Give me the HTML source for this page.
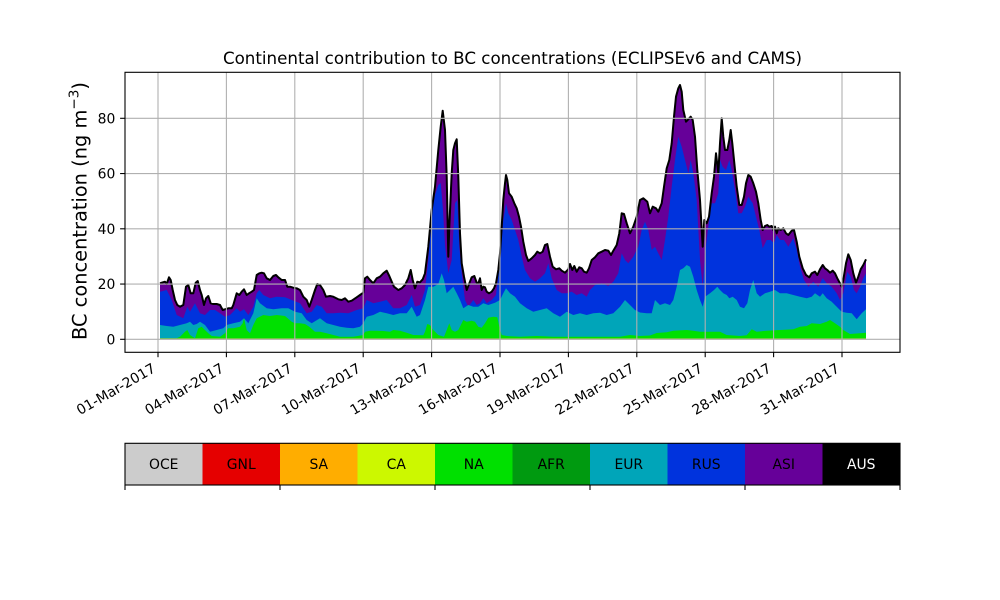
<!DOCTYPE html>
<html>
<head>
<meta charset="utf-8">
<style>
  html, body { margin:0; padding:0; background:#fff; }
  svg { display:block; }
  text { font-family: "DejaVu Sans", "Liberation Sans", sans-serif; fill:#000; }
</style>
</head>
<body>
<svg width="1000" height="600" viewBox="0 0 1000 600" xmlns="http://www.w3.org/2000/svg">
  <rect x="0" y="0" width="1000" height="600" fill="#ffffff"/>

  <!-- Title -->
  <text x="512.5" y="64" font-size="16.7" text-anchor="middle">Continental contribution to BC concentrations (ECLIPSEv6 and CAMS)</text>

  <!-- ASI (total) -->
  <path fill="#660099" d="M160,339.3 L160,283.3 161.7,282.7 165,281.7 166.7,284 169,277.3 170.7,280 172.7,290 175,300 177.3,305 180,306.7 183.3,305 186,286.7 188.3,285 190.7,293.3 193.3,293.3 195.7,282.7 197.7,281 200,290 201.7,295 204,305 206,298.3 208.3,296 210.7,303.3 213.3,304 216.7,304 220,305 222.7,310 225,309.3 228.3,308.3 231.7,308.3 233.3,305 236.7,293.3 239.3,295 241.7,291.7 244,289.3 246.7,295 249,293.3 251.7,291.7 254,290 256.7,275 259.3,273.3 261.7,272.7 264,273.3 266.7,278.3 270,280 273.3,276 276,275 278.3,277.3 281.7,280 285,280 287.3,286.7 290,286.7 293.3,287.7 296.7,288.3 300,290 303.3,296.7 306.7,300 309.3,306.7 311.7,300 315,290 317.3,284 320,285 323.3,290 326,296.7 330,296 333.3,296.7 338.3,299.3 341.7,300 345,298.3 348.3,301.7 351.7,300.7 356.7,297.3 360,295 363.3,292.7 365,278.3 367.3,276.7 370,280 373.3,283.3 376.7,278.3 380,276.7 383.3,273.3 386.7,270.7 389.3,276 391.7,281.7 394,286.7 398.3,290 401.7,288.3 405,285 408.3,278.3 410.7,270 412.7,280 415,288.3 417.3,281.7 420,282.3 422.7,279.3 425,273.3 428.3,246.7 431.7,210 435,186.7 438.3,150 440.7,126.7 442.7,110.7 445,130 446.7,176.7 448.3,256.7 449.3,226.7 451.7,173.3 453.3,150 455,143.3 456.7,139.3 458.3,176.7 460,233.3 461.7,263.3 464,276.7 466.7,290 469.3,283.3 471.7,277.3 474.3,276 476.7,282.7 478.3,283.3 480,278.3 481.7,290 483.3,286.7 485,287.3 486.7,291.7 489,293.3 491.7,291.7 494,288.3 496,283.3 498.3,270 500,253.3 501.7,226.7 503.3,200 505,183.3 506,175 507.3,180 509,193.3 511.7,196.7 514.3,203.3 516.7,208.3 519,216.7 521,226.7 523.3,241.7 526,255 528.3,261 531.7,258.3 535,255 537.3,251.7 540,253.3 542.7,251.7 545,245 547.3,244 550,256.7 552.7,266.7 556,269.3 559.3,268.3 561.7,270.7 565,272.7 568.3,269.3 570,264 572.3,270 574.3,266 576.7,271.7 579.3,267.3 581.7,268.3 584,271.7 586.7,272.7 589,268.3 591.7,260 595,257.3 598.3,253.3 601.7,251.7 605,250 608.3,250.7 611,255 613.3,250.7 616.7,245 619.3,233.3 621.7,213.3 624,214 626.7,223.3 630,233.3 633.3,226.7 636.7,216.7 640,200 643.3,198.3 647.3,201.7 650,213.3 652.7,206.7 656,208.3 658.3,211.7 661.7,203.3 664,186.7 666.7,168.3 669.3,160 671.7,143.3 674,116.7 676,96.7 678.3,88.3 680,85 681.7,91.7 683.3,110 686,121.7 688.3,119.3 690.7,116.7 692.7,120 695,136.7 697.3,170 700,200 702.7,246.7 704.3,220 706.7,223.3 709,216.7 711.7,193.3 714,176.7 716,153.3 718.3,173.3 720,143.3 721.7,118.3 723.3,136.7 725,150 727.3,150 729.3,140 730.7,130 732.3,143.3 734,160 736.7,186.7 739.3,205 741.7,205 744,196.7 746,183.3 748.3,175 750.7,176.7 753.3,183.3 756,191.7 758.3,203.3 760.7,220 762.7,230 765,226 767.3,225 769.3,226.7 771.7,226 773.3,230 775,226.7 776.7,233.3 778.3,228.3 780.7,230 783.3,228.3 786,233.3 788.3,235 791.7,230.7 794,230 796.7,241.7 799.3,256.7 802.7,268.3 806,275 809.3,277.3 811.7,273.3 815,271.7 817.3,275 820,269.3 822.7,265 825,268.3 827.3,270 830,272.7 832.7,270.7 835,273.3 837.3,278.3 840,283.3 841.7,286.7 843.3,280 846,263.3 848.3,254.3 850.7,260 853.3,273.3 856,282.7 858.3,276.7 860.7,269.3 863.3,265 866,259.3 L866,339.3 Z"/>

  <!-- RUS -->
  <path fill="#0033dd" d="M160,339.3 L160,291.7 166.7,290 171.7,300 176.7,315 183.3,318.3 187.3,306.7 190,311.7 195,303.3 200,313.3 205,315 210,310 215,310 220,313.3 225,316.7 230,315 236.7,308.3 240,311.7 244,309.3 248.3,315 253.3,306.7 256.7,293.3 259.3,290 263.3,295 270,298.3 276.7,296.7 285,297.3 291.7,300 300,303.3 306.7,313.3 311.7,311.7 316.7,305 321.7,306.7 326.7,313.3 333.3,313.3 340,312.7 348.3,313.3 356.7,310 363.3,308.3 366.7,300 373.3,303.3 380,301.7 386.7,300 393.3,308.3 400,308.3 406.7,305 411.7,295 415,306.7 420,305 425,290 428.3,260 431.7,215 435,195 438.3,185 440.7,183 443,210 445,245 448.3,273.3 451.7,260 455,203.3 457.3,200 459.3,246.7 461.7,273.3 465,300 468.3,306.7 473.3,300 476.7,305 480,303.3 483.3,298.3 486.7,303.3 491.7,300 496,295 500,260 503.3,220 506,203.3 508.3,213.3 511.7,220 515,230 518.3,240 521.7,256.7 525,270 530,278.3 535,281.7 540,278.3 545,273.3 548.3,263.3 551.7,278.3 556.7,290 561.7,293.3 566.7,293.3 571.7,291.7 576.7,295 581.7,293.3 586.7,296.7 590,290 595,285 601.7,283.3 608.3,286 613.3,281.7 618.3,273.3 621.7,253.3 625,260 628.3,263.3 633.3,256.7 638.3,246.7 641.7,230 645,221.7 648.3,230 651.7,250 655,246.7 658.3,253.3 661.7,260 665,240 668.3,216.7 671.7,186.7 675,160 678.3,136.7 681.7,146.7 685,160 688.3,173.3 690.7,160 693.3,173.3 696.7,200 700,260 702.7,286.7 705,253.3 708.3,226.7 711.7,203.3 715,203.3 718.3,193.3 720,160 722.7,166.7 726,170 729.3,160 731.7,170 735,190 738.3,213.3 741.7,213.3 745,206.7 748.3,196.7 752.7,203.3 756,216.7 759.3,230 762.7,248.3 766.7,240 770.7,240 774,243.3 776.7,235 780,240 784,240 788.3,246.7 793.3,238.3 796.7,250 800,266.7 804,280 808.3,286.7 813.3,281.7 818.3,286.7 822.7,278.3 826.7,283.3 831.7,286.7 836.7,293.3 840,300 843.3,293.3 847.3,271.7 850.7,276.7 854,290 856.7,293.3 860,286.7 863.3,278.3 866,273.3 L866,339.3 Z"/>

  <!-- EUR -->
  <path fill="#00a5b9" d="M160,339.3 L160,325 166.7,326 173.3,326.7 180,325 186.7,323.3 190,321.7 193.3,325 196.7,324 200,321.7 205,325 210,331.7 216.7,330 223.3,328.3 226.7,325 233.3,323.3 240,321.7 244,318.3 248.3,323.3 253.3,313.3 256.7,298.3 260,303.3 266.7,308.3 273.3,309.3 281.7,308.3 288.3,308.3 295,311.7 301.7,313.3 306.7,320 311.7,323.3 320,318.3 326.7,323.3 333.3,325 340,326.7 346.7,327.7 353.3,328.3 360,326.7 363.3,323.3 366.7,316.7 373.3,315 380,311.7 386.7,313.3 393.3,315 400,313.3 406.7,313.3 411.7,306.7 416.7,316.7 420,315 425,300 428.3,286.7 433.3,286.7 438.3,284 441.7,273.3 444,280 446.7,293.3 450,290 453.3,286.7 456.7,293.3 460,300 463.3,308.3 468.3,305 473.3,306.7 478.3,306.7 483.3,303.3 488.3,305 495,302.7 500,300 503.3,293.3 506,288.3 510,293.3 515,296.7 520,303.3 526.7,308.3 533.3,311.7 540,310 546.7,308.3 553.3,313.3 560,316.7 566.7,311.7 573.3,315 580,313.3 586.7,315 593.3,313.3 600,312.7 606.7,315 613.3,313.3 620,306.7 625,300 630,305 635,310 640,312.5 646.7,313.3 651.7,313.3 655,300 660,305 665,303.3 670,305 673.3,300 676.7,286.7 680,270 683.3,268.3 686.7,265 690,266.7 693.3,276.7 696.7,290 700,300 702.7,306.7 705,296.7 710,293.3 714,290 717.3,286.7 720,290 723.3,293.3 726.7,295 729.3,298.3 732.7,296.7 736.7,300 740,306.7 744,308.3 747.3,303.3 750,290 753.3,280 756.7,293.3 760,296.7 765,293.3 770,291.7 775,290 780,293.3 786.7,293.3 793.3,295 800,296.7 806.7,298.3 811.7,296.7 815,293.3 820,296.7 822.7,293.3 826.7,298.3 831.7,301.7 836.7,306.7 841.7,311.7 846.7,312.7 851.7,313.3 856.7,319.3 861.7,313.3 866,309.3 L866,339.3 Z"/>

  <!-- AFR thin -->
  <path fill="#009a10" d="M160,339.3 L160,338.6 866,338.6 866,339.3 Z"/>

  <!-- NA -->
  <path fill="#00e000" d="M160,339.3 L160,338.3 176.7,338.3 180,336.7 185,331.7 187.3,330 190,335 195,338.3 198.3,328.3 201.7,326.7 205,330 208.3,333.3 211.7,336 220,336.7 225,333.3 228.3,328.3 233.3,328.3 240,326.7 242.7,323.3 244,318.3 246.7,330 250,333.3 253.3,325 256.7,318.3 263.3,315 270,316 276.7,315 285,316 291.7,321.7 295,323.3 300,323.3 305,324 309.3,326.7 315,331.7 320,331.7 326.7,333.3 333.3,335 340,336.7 353.3,336.7 363.3,335 365,331.7 370,330.7 376.7,330.7 383.3,331 390,331.7 393.3,330 400,330.7 406.7,332.7 413.3,335 423.3,335.3 425,331.7 427.3,324 430,325 433.3,330 438.3,335 444,336.7 446.7,330 449.3,323.3 451.7,330 455,331.7 458.3,330 461.7,323.3 463.3,320 466.7,321.7 471.7,320.7 475,321.7 478.3,326.7 481.7,327.7 485,323.3 488.3,317.7 493.3,316.7 497.3,317.3 499.3,326.7 501.7,335 506.7,336 520,336.7 536.7,336 553.3,336.7 570,336.7 586.7,336.7 603.3,336.7 620,336.7 630,335 640,336 650,335.5 656.7,333 666.7,332.2 673.3,330.7 686.7,330 693.3,330.7 700,331.7 720,331.7 726.7,335 740,336 746.7,335.3 751.7,329.3 756.7,331.7 766.7,330.7 780,330 793.3,329.3 800,326.7 806.7,326 811.7,323.3 820,324 826.7,321.7 830,320 835,323.3 840,326.7 843.3,330 850,334 860,333.3 866,332.7 L866,339.3 Z"/>

  <!-- small bottom layers (CA/SA/GNL/OCE) -->
  <rect x="160" y="338.4" width="706" height="1.3" fill="#c8c040"/>

  <!-- Total outline -->
  <polyline fill="none" stroke="#000" stroke-width="2" stroke-linejoin="round" points="160,283.3 161.7,282.7 165,281.7 166.7,284 169,277.3 170.7,280 172.7,290 175,300 177.3,305 180,306.7 183.3,305 186,286.7 188.3,285 190.7,293.3 193.3,293.3 195.7,282.7 197.7,281 200,290 201.7,295 204,305 206,298.3 208.3,296 210.7,303.3 213.3,304 216.7,304 220,305 222.7,310 225,309.3 228.3,308.3 231.7,308.3 233.3,305 236.7,293.3 239.3,295 241.7,291.7 244,289.3 246.7,295 249,293.3 251.7,291.7 254,290 256.7,275 259.3,273.3 261.7,272.7 264,273.3 266.7,278.3 270,280 273.3,276 276,275 278.3,277.3 281.7,280 285,280 287.3,286.7 290,286.7 293.3,287.7 296.7,288.3 300,290 303.3,296.7 306.7,300 309.3,306.7 311.7,300 315,290 317.3,284 320,285 323.3,290 326,296.7 330,296 333.3,296.7 338.3,299.3 341.7,300 345,298.3 348.3,301.7 351.7,300.7 356.7,297.3 360,295 363.3,292.7 365,278.3 367.3,276.7 370,280 373.3,283.3 376.7,278.3 380,276.7 383.3,273.3 386.7,270.7 389.3,276 391.7,281.7 394,286.7 398.3,290 401.7,288.3 405,285 408.3,278.3 410.7,270 412.7,280 415,288.3 417.3,281.7 420,282.3 422.7,279.3 425,273.3 428.3,246.7 431.7,210 435,186.7 438.3,150 440.7,126.7 442.7,110.7 445,130 446.7,176.7 448.3,256.7 449.3,226.7 451.7,173.3 453.3,150 455,143.3 456.7,139.3 458.3,176.7 460,233.3 461.7,263.3 464,276.7 466.7,290 469.3,283.3 471.7,277.3 474.3,276 476.7,282.7 478.3,283.3 480,278.3 481.7,290 483.3,286.7 485,287.3 486.7,291.7 489,293.3 491.7,291.7 494,288.3 496,283.3 498.3,270 500,253.3 501.7,226.7 503.3,200 505,183.3 506,175 507.3,180 509,193.3 511.7,196.7 514.3,203.3 516.7,208.3 519,216.7 521,226.7 523.3,241.7 526,255 528.3,261 531.7,258.3 535,255 537.3,251.7 540,253.3 542.7,251.7 545,245 547.3,244 550,256.7 552.7,266.7 556,269.3 559.3,268.3 561.7,270.7 565,272.7 568.3,269.3 570,264 572.3,270 574.3,266 576.7,271.7 579.3,267.3 581.7,268.3 584,271.7 586.7,272.7 589,268.3 591.7,260 595,257.3 598.3,253.3 601.7,251.7 605,250 608.3,250.7 611,255 613.3,250.7 616.7,245 619.3,233.3 621.7,213.3 624,214 626.7,223.3 630,233.3 633.3,226.7 636.7,216.7 640,200 643.3,198.3 647.3,201.7 650,213.3 652.7,206.7 656,208.3 658.3,211.7 661.7,203.3 664,186.7 666.7,168.3 669.3,160 671.7,143.3 674,116.7 676,96.7 678.3,88.3 680,85 681.7,91.7 683.3,110 686,121.7 688.3,119.3 690.7,116.7 692.7,120 695,136.7 697.3,170 700,200 702.7,246.7 704.3,220 706.7,223.3 709,216.7 711.7,193.3 714,176.7 716,153.3 718.3,173.3 720,143.3 721.7,118.3 723.3,136.7 725,150 727.3,150 729.3,140 730.7,130 732.3,143.3 734,160 736.7,186.7 739.3,205 741.7,205 744,196.7 746,183.3 748.3,175 750.7,176.7 753.3,183.3 756,191.7 758.3,203.3 760.7,220 762.7,230 765,226 767.3,225 769.3,226.7 771.7,226 773.3,230 775,226.7 776.7,233.3 778.3,228.3 780.7,230 783.3,228.3 786,233.3 788.3,235 791.7,230.7 794,230 796.7,241.7 799.3,256.7 802.7,268.3 806,275 809.3,277.3 811.7,273.3 815,271.7 817.3,275 820,269.3 822.7,265 825,268.3 827.3,270 830,272.7 832.7,270.7 835,273.3 837.3,278.3 840,283.3 841.7,286.7 843.3,280 846,263.3 848.3,254.3 850.7,260 853.3,273.3 856,282.7 858.3,276.7 860.7,269.3 863.3,265 866,259.3"/>

  <!-- Grid (drawn on top) -->
  <g stroke="#b0b0b0" stroke-width="1.1" fill="none">
    <line x1="125" y1="339.3" x2="900" y2="339.3"/>
    <line x1="125" y1="284.05" x2="900" y2="284.05"/>
    <line x1="125" y1="228.8" x2="900" y2="228.8"/>
    <line x1="125" y1="173.55" x2="900" y2="173.55"/>
    <line x1="125" y1="118.3" x2="900" y2="118.3"/>
    <line x1="158" y1="72.3" x2="158" y2="352.3"/>
    <line x1="226.4" y1="72.3" x2="226.4" y2="352.3"/>
    <line x1="294.8" y1="72.3" x2="294.8" y2="352.3"/>
    <line x1="363.2" y1="72.3" x2="363.2" y2="352.3"/>
    <line x1="431.6" y1="72.3" x2="431.6" y2="352.3"/>
    <line x1="500" y1="72.3" x2="500" y2="352.3"/>
    <line x1="568.4" y1="72.3" x2="568.4" y2="352.3"/>
    <line x1="636.8" y1="72.3" x2="636.8" y2="352.3"/>
    <line x1="705.2" y1="72.3" x2="705.2" y2="352.3"/>
    <line x1="773.6" y1="72.3" x2="773.6" y2="352.3"/>
    <line x1="842" y1="72.3" x2="842" y2="352.3"/>
  </g>

  <!-- Axes frame -->
  <rect x="125" y="72.3" width="775" height="280" fill="none" stroke="#000" stroke-width="1.1"/>

  <!-- Ticks -->
  <g stroke="#000" stroke-width="1.1">
    <line x1="120.1" y1="339.3" x2="125" y2="339.3"/>
    <line x1="120.1" y1="284.05" x2="125" y2="284.05"/>
    <line x1="120.1" y1="228.8" x2="125" y2="228.8"/>
    <line x1="120.1" y1="173.55" x2="125" y2="173.55"/>
    <line x1="120.1" y1="118.3" x2="125" y2="118.3"/>
    <line x1="158" y1="352.3" x2="158" y2="357.2"/>
    <line x1="226.4" y1="352.3" x2="226.4" y2="357.2"/>
    <line x1="294.8" y1="352.3" x2="294.8" y2="357.2"/>
    <line x1="363.2" y1="352.3" x2="363.2" y2="357.2"/>
    <line x1="431.6" y1="352.3" x2="431.6" y2="357.2"/>
    <line x1="500" y1="352.3" x2="500" y2="357.2"/>
    <line x1="568.4" y1="352.3" x2="568.4" y2="357.2"/>
    <line x1="636.8" y1="352.3" x2="636.8" y2="357.2"/>
    <line x1="705.2" y1="352.3" x2="705.2" y2="357.2"/>
    <line x1="773.6" y1="352.3" x2="773.6" y2="357.2"/>
    <line x1="842" y1="352.3" x2="842" y2="357.2"/>
  </g>

  <!-- Y tick labels -->
  <g font-size="13.9" text-anchor="end">
    <text x="115.3" y="344.3">0</text>
    <text x="115.3" y="289.05">20</text>
    <text x="115.3" y="233.8">40</text>
    <text x="115.3" y="178.55">60</text>
    <text x="115.3" y="123.3">80</text>
  </g>

  <!-- X tick labels -->
  <g font-size="13.9" text-anchor="end">
    <text transform="translate(156.5,371.1) rotate(-30)">01-Mar-2017</text>
    <text transform="translate(224.9,371.1) rotate(-30)">04-Mar-2017</text>
    <text transform="translate(293.3,371.1) rotate(-30)">07-Mar-2017</text>
    <text transform="translate(361.7,371.1) rotate(-30)">10-Mar-2017</text>
    <text transform="translate(430.1,371.1) rotate(-30)">13-Mar-2017</text>
    <text transform="translate(498.5,371.1) rotate(-30)">16-Mar-2017</text>
    <text transform="translate(566.9,371.1) rotate(-30)">19-Mar-2017</text>
    <text transform="translate(635.3,371.1) rotate(-30)">22-Mar-2017</text>
    <text transform="translate(703.7,371.1) rotate(-30)">25-Mar-2017</text>
    <text transform="translate(772.1,371.1) rotate(-30)">28-Mar-2017</text>
    <text transform="translate(840.5,371.1) rotate(-30)">31-Mar-2017</text>
  </g>

  <!-- Y axis label -->
  <text transform="translate(86.5,211) rotate(-90)" font-size="19.4" text-anchor="middle">BC concentration (ng m<tspan font-size="13.6" dy="-8">−3</tspan><tspan dy="8">)</tspan></text>

  <!-- Colorbar legend -->
  <rect x="125" y="443.3" width="77.5" height="41.7" fill="#cccccc"/>
  <rect x="202.5" y="443.3" width="77.5" height="41.7" fill="#e50000"/>
  <rect x="280" y="443.3" width="77.5" height="41.7" fill="#ffad00"/>
  <rect x="357.5" y="443.3" width="77.5" height="41.7" fill="#ccf800"/>
  <rect x="435" y="443.3" width="77.5" height="41.7" fill="#00e000"/>
  <rect x="512.5" y="443.3" width="77.5" height="41.7" fill="#009a10"/>
  <rect x="590" y="443.3" width="77.5" height="41.7" fill="#00a5b9"/>
  <rect x="667.5" y="443.3" width="77.5" height="41.7" fill="#0033dd"/>
  <rect x="745" y="443.3" width="77.5" height="41.7" fill="#660099"/>
  <rect x="822.5" y="443.3" width="77.5" height="41.7" fill="#000000"/>
  <rect x="125" y="443.3" width="775" height="41.7" fill="none" stroke="#000" stroke-width="1.1"/>
  <g stroke="#000" stroke-width="1.1">
    <line x1="125" y1="485" x2="125" y2="490"/>
    <line x1="280" y1="485" x2="280" y2="490"/>
    <line x1="435" y1="485" x2="435" y2="490"/>
    <line x1="590" y1="485" x2="590" y2="490"/>
    <line x1="745" y1="485" x2="745" y2="490"/>
    <line x1="900" y1="485" x2="900" y2="490"/>
  </g>
  <g font-size="13.9" text-anchor="middle">
    <text x="163.75" y="469.2">OCE</text>
    <text x="241.25" y="469.2">GNL</text>
    <text x="318.75" y="469.2">SA</text>
    <text x="396.25" y="469.2">CA</text>
    <text x="473.75" y="469.2">NA</text>
    <text x="551.25" y="469.2">AFR</text>
    <text x="628.75" y="469.2">EUR</text>
    <text x="706.25" y="469.2">RUS</text>
    <text x="783.75" y="469.2">ASI</text>
    <text x="861.25" y="469.2" style="fill:#ffffff">AUS</text>
  </g>
</svg>
</body>
</html>
